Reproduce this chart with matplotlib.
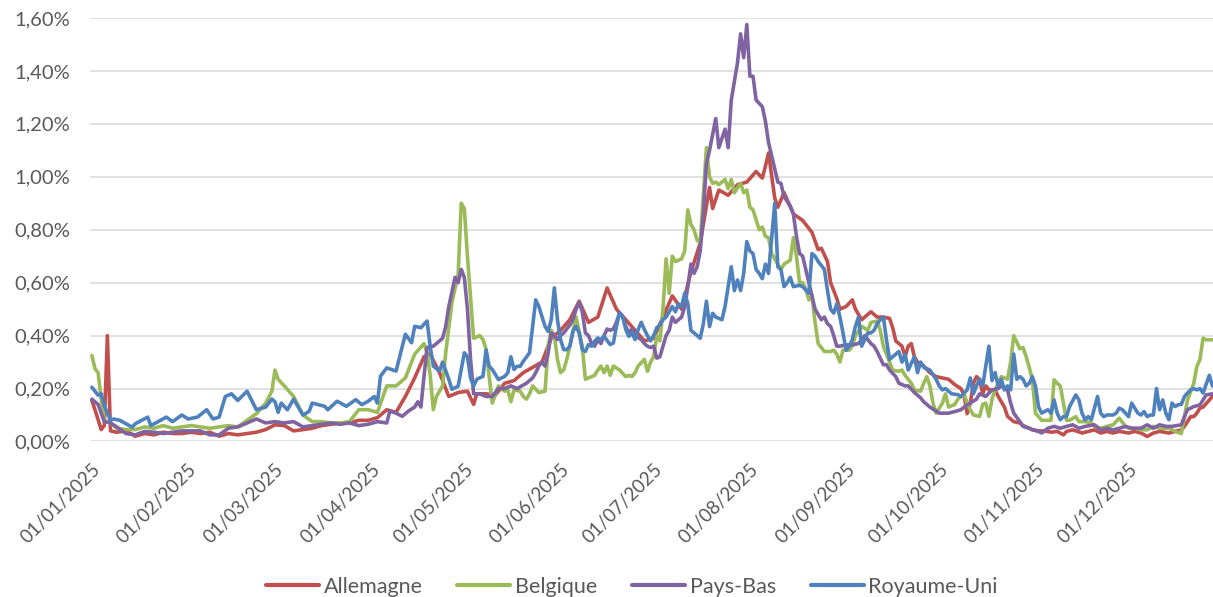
import matplotlib
matplotlib.use("Agg")
import matplotlib.pyplot as plt
import matplotlib.dates as mdates
from matplotlib.ticker import FuncFormatter, MultipleLocator
import pandas as pd

plt.rcParams["font.family"] = ["Lato", "DejaVu Sans"]

start = pd.Timestamp("2025-01-01")
names = ["Allemagne", "Belgique", "Pays-Bas", "Royaume-Uni"]
colors = ["#C0504D", "#9BBB59", "#8064A2", "#4F81BD"]

# (day of year from 01/01/2025, value in %)
allemagne = [(0, .155), (1, .12), (3, .045), (4, .06), (5, .40), (6, .04), (8, .035), (11, .04), (14, .02),
             (17, .03), (20, .025), (23, .035), (26, .03), (29, .03), (32, .035), (35, .03), (38, .035),
             (41, .02), (44, .03), (47, .025), (50, .03), (53, .035), (56, .045), (59, .063), (62, .06),
             (65, .04), (68, .045), (71, .05), (74, .06), (77, .065), (80, .07), (83, .07), (86, .08),
             (89, .08), (92, .09), (95, .12), (98, .11), (101, .17), (104, .24), (107, .32), (109, .33),
             (112, .26), (115, .17), (118, .185), (121, .19), (123, .14), (124, .18), (127, .18), (130, .175),
             (133, .22), (136, .23), (139, .26), (142, .28), (145, .30), (148, .39), (151, .42), (154, .46),
             (157, .53), (160, .45), (163, .47), (166, .58), (169, .50), (172, .46), (175, .42), (178, .38),
             (181, .39), (184, .47), (187, .55), (190, .50), (193, .64), (196, .75), (199, .96), (200, .88),
             (202, .95), (205, .93), (208, .97), (211, .98), (214, 1.02), (216, .995), (217, 1.04), (218, 1.09),
             (220, .92), (221, .885), (223, .94), (226, .86), (229, .835), (232, .79), (234, .725), (235, .73),
             (237, .68), (238, .60), (240, .54), (241, .50), (243, .51), (245, .535), (246, .50), (248, .46),
             (251, .49), (253, .47), (255, .47), (257, .465), (258, .43), (259, .38), (261, .36), (262, .32),
             (263, .36), (264, .37), (265, .32), (266, .30), (268, .285), (270, .26), (272, .245), (274, .24),
             (276, .235), (278, .215), (280, .20), (281, .175), (282, .105), (283, .145), (284, .22), (285, .245),
             (286, .235), (287, .18), (288, .21), (289, .195), (291, .195), (292, .17), (294, .13), (295, .095),
             (297, .075), (299, .07), (300, .06), (302, .05), (303, .045), (305, .04), (307, .04), (309, .035),
             (311, .038), (313, .025), (314, .038), (316, .044), (319, .032), (321, .038), (323, .044),
             (325, .032), (327, .038), (329, .032), (331, .038), (334, .032), (336, .038), (338, .032),
             (340, .019), (342, .032), (344, .038), (347, .032), (349, .038), (351, .044), (352, .057),
             (354, .094), (355, .094), (356, .107), (357, .126), (358, .13), (360, .157), (361, .17)]

belgique = [(0, .325), (1, .275), (2, .26), (3, .16), (4, .08), (6, .07), (8, .05), (11, .045), (14, .045),
            (17, .055), (20, .05), (23, .06), (26, .05), (29, .055), (32, .06), (35, .055), (38, .05),
            (41, .055), (44, .06), (47, .055), (50, .08), (53, .105), (56, .145), (58, .19), (59, .27),
            (60, .235), (62, .21), (65, .17), (68, .10), (71, .075), (74, .075), (77, .07), (80, .07),
            (83, .075), (86, .12), (89, .12), (92, .11), (95, .21), (98, .21), (101, .24), (104, .33),
            (107, .37), (108, .335), (109, .25), (110, .12), (111, .17), (113, .21), (114, .335), (116, .525),
            (118, .63), (119, .90), (120, .88), (121, .70), (123, .39), (125, .40), (126, .385), (127, .35),
            (128, .245), (129, .145), (131, .21), (133, .19), (134, .195), (135, .15), (136, .195), (138, .19),
            (139, .17), (140, .16), (141, .18), (142, .21), (144, .185), (146, .19), (147, .36), (148, .42),
            (149, .40), (150, .31), (151, .26), (152, .27), (153, .31), (154, .36), (155, .42), (156, .47),
            (158, .36), (159, .235), (160, .24), (162, .25), (163, .27), (164, .285), (165, .26), (166, .285),
            (167, .25), (168, .285), (170, .27), (172, .245), (173, .25), (174, .245), (175, .26), (176, .285),
            (178, .31), (179, .265), (180, .30), (181, .32), (182, .40), (183, .38), (184, .50), (185, .69),
            (186, .56), (187, .70), (188, .68), (190, .69), (191, .72), (192, .875), (193, .82), (194, .80),
            (195, .76), (196, .75), (197, .93), (198, 1.11), (199, 1.0), (200, .975), (201, .98), (202, .97),
            (204, .99), (205, .955), (206, .99), (207, .94), (209, .975), (210, .94), (211, .95), (212, .885),
            (213, .875), (215, .80), (216, .81), (217, .775), (218, .77), (219, .71), (221, .67), (222, .65),
            (223, .67), (225, .685), (226, .77), (227, .70), (228, .60), (229, .60), (230, .575), (231, .535),
            (232, .55), (233, .45), (234, .37), (236, .34), (238, .34), (239, .345), (240, .33), (241, .30),
            (242, .345), (244, .345), (245, .36), (246, .40), (248, .435), (250, .42), (251, .45), (253, .455),
            (254, .42), (255, .36), (257, .30), (258, .27), (260, .265), (261, .27), (262, .25), (264, .22),
            (265, .195), (267, .19), (268, .22), (269, .245), (270, .21), (271, .145), (272, .107), (273, .125),
            (274, .145), (275, .18), (276, .13), (278, .14), (279, .16), (281, .18), (282, .145), (283, .12),
            (284, .10), (286, .095), (287, .14), (288, .145), (289, .095), (290, .16), (291, .195), (293, .245),
            (295, .235), (296, .30), (297, .40), (298, .375), (299, .35), (300, .355), (301, .32), (302, .28),
            (303, .235), (304, .107), (306, .08), (308, .08), (309, .08), (310, .233), (311, .22), (312, .21),
            (314, .08), (315, .08), (317, .094), (318, .075), (320, .075), (322, .07), (323, .057), (325, .05),
            (327, .057), (329, .063), (331, .088), (333, .057), (334, .05), (336, .05), (338, .044), (340, .044),
            (342, .057), (344, .05), (347, .05), (349, .038), (351, .03), (352, .094), (353, .157), (355, .22),
            (356, .283), (357, .31), (358, .39), (359, .384), (361, .384)]

pays_bas = [(0, .16), (2, .14), (4, .075), (6, .07), (8, .055), (11, .03), (14, .025), (17, .038), (20, .035),
            (23, .03), (26, .035), (29, .04), (32, .04), (35, .04), (38, .025), (41, .025), (44, .05),
            (47, .055), (50, .07), (53, .085), (56, .07), (59, .075), (62, .07), (65, .075), (68, .055),
            (71, .06), (74, .065), (77, .07), (80, .065), (83, .07), (86, .06), (89, .065), (92, .075),
            (95, .07), (96, .115), (98, .107), (100, .095), (102, .115), (104, .13), (105, .15), (106, .13),
            (107, .245), (108, .355), (110, .36), (113, .39), (114, .435), (115, .51), (117, .62), (118, .60),
            (119, .65), (120, .62), (121, .50), (122, .31), (123, .18), (125, .18), (127, .17), (129, .17),
            (131, .20), (133, .20), (135, .21), (137, .20), (140, .22), (142, .24), (143, .26), (144, .285),
            (145, .30), (146, .285), (147, .335), (148, .41), (149, .40), (150, .385), (151, .40), (152, .41),
            (154, .44), (155, .46), (156, .50), (157, .525), (158, .49), (159, .41), (160, .40), (161, .37),
            (162, .36), (163, .385), (164, .37), (165, .40), (166, .425), (167, .42), (168, .425), (169, .45),
            (170, .485), (171, .47), (172, .435), (173, .41), (174, .425), (175, .40), (177, .385), (178, .37),
            (179, .36), (180, .355), (181, .36), (182, .315), (183, .32), (185, .40), (186, .42), (187, .47),
            (188, .45), (190, .47), (191, .51), (192, .585), (193, .67), (194, .635), (195, .66), (196, .72),
            (197, .86), (198, 1.05), (199, 1.10), (201, 1.22), (202, 1.11), (204, 1.18), (205, 1.11),
            (206, 1.29), (208, 1.43), (209, 1.54), (210, 1.45), (211, 1.575), (212, 1.38), (213, 1.38),
            (214, 1.29), (216, 1.265), (217, 1.21), (218, 1.13), (219, 1.08), (221, .98), (222, .975),
            (223, .925), (225, .89), (226, .86), (227, .775), (228, .71), (229, .70), (230, .65), (231, .60),
            (232, .55), (233, .50), (235, .46), (236, .47), (237, .445), (238, .435), (239, .40), (240, .36),
            (241, .36), (243, .365), (245, .365), (247, .37), (249, .40), (251, .37), (252, .36), (253, .34),
            (254, .315), (255, .29), (256, .29), (257, .27), (259, .245), (260, .22), (262, .21), (263, .21),
            (265, .185), (267, .165), (268, .15), (270, .13), (272, .115), (273, .107), (275, .107), (276, .107),
            (278, .113), (280, .12), (281, .13), (283, .145), (285, .16), (286, .18), (287, .175), (288, .17),
            (290, .195), (292, .20), (293, .21), (295, .195), (296, .145), (297, .107), (299, .075), (300, .057),
            (302, .05), (303, .044), (305, .038), (306, .032), (308, .05), (310, .057), (312, .05), (314, .057),
            (316, .063), (318, .05), (320, .057), (323, .063), (325, .044), (327, .05), (329, .044), (331, .05),
            (333, .057), (335, .05), (338, .05), (340, .063), (342, .05), (344, .063), (346, .057), (348, .057),
            (351, .063), (352, .094), (353, .12), (355, .132), (357, .138), (358, .157), (359, .176), (361, .18)]

royaume_uni = [(0, .205), (2, .175), (3, .18), (4, .135), (6, .08), (7, .085), (9, .08), (11, .067), (13, .054),
               (14, .067), (18, .092), (19, .06), (24, .092), (26, .075), (29, .10), (31, .085), (34, .092),
               (37, .12), (39, .085), (41, .092), (43, .17), (45, .18), (47, .155), (50, .19), (52, .143),
               (53, .12), (56, .13), (58, .16), (59, .15), (60, .11), (61, .145), (63, .12), (65, .16), (68, .10),
               (70, .114), (71, .145), (73, .139), (75, .133), (76, .12), (79, .152), (82, .133), (85, .158),
               (87, .139), (89, .152), (91, .17), (92, .145), (93, .247), (95, .278), (98, .266), (101, .405),
               (103, .373), (104, .435), (106, .43), (108, .455), (109, .36), (110, .285), (112, .266), (113, .30),
               (115, .235), (116, .197), (118, .209), (120, .335), (121, .32), (122, .24), (123, .21), (124, .235),
               (126, .246), (127, .345), (128, .284), (129, .272), (130, .253), (131, .234), (132, .24),
               (133, .246), (134, .259), (135, .32), (136, .272), (137, .284), (138, .284), (139, .303),
               (141, .335), (142, .435), (143, .535), (144, .51), (145, .473), (146, .435), (147, .416),
               (148, .46), (149, .58), (150, .46), (151, .385), (152, .347), (153, .347), (154, .36), (155, .416),
               (156, .435), (157, .41), (158, .347), (159, .34), (160, .366), (161, .36), (162, .379), (163, .391),
               (164, .385), (165, .397), (167, .366), (168, .372), (169, .435), (170, .485), (171, .473),
               (172, .423), (173, .397), (174, .41), (175, .385), (176, .423), (177, .45), (178, .423), (179, .40),
               (180, .38), (181, .40), (182, .43), (183, .44), (184, .46), (185, .47), (187, .51), (188, .49),
               (189, .52), (190, .51), (191, .56), (192, .52), (193, .42), (194, .41), (196, .39), (197, .445),
               (198, .53), (199, .434), (200, .484), (201, .47), (203, .46), (204, .51), (206, .66), (207, .57),
               (208, .61), (209, .57), (210, .635), (211, .755), (212, .72), (213, .71), (214, .65), (215, .635),
               (216, .615), (217, .67), (218, .635), (220, .90), (221, .66), (222, .65), (223, .585), (224, .60),
               (225, .62), (226, .585), (228, .59), (229, .585), (231, .56), (232, .71), (233, .70), (234, .68),
               (236, .65), (237, .57), (238, .50), (239, .485), (240, .52), (241, .47), (242, .41), (243, .345),
               (244, .36), (245, .385), (246, .435), (247, .47), (248, .36), (250, .41), (251, .41), (252, .42),
               (253, .445), (254, .46), (255, .47), (256, .385), (257, .31), (259, .33), (260, .34), (261, .30),
               (262, .33), (263, .27), (265, .32), (266, .26), (267, .30), (268, .28), (270, .27), (272, .235),
               (273, .21), (274, .195), (275, .20), (277, .18), (279, .177), (280, .17), (282, .195), (283, .24),
               (284, .18), (285, .21), (286, .235), (287, .21), (288, .285), (289, .36), (290, .23), (291, .26),
               (292, .21), (293, .235), (294, .195), (295, .21), (296, .195), (297, .33), (298, .235), (299, .245),
               (300, .235), (301, .21), (302, .22), (303, .245), (304, .21), (305, .13), (306, .107), (308, .12),
               (309, .107), (310, .157), (311, .107), (312, .082), (313, .094), (314, .094), (315, .132),
               (317, .176), (318, .157), (319, .107), (320, .082), (321, .094), (322, .082), (324, .17),
               (325, .107), (326, .094), (327, .10), (329, .10), (330, .107), (331, .126), (332, .12), (334, .094),
               (335, .145), (337, .107), (338, .10), (339, .113), (340, .094), (341, .10), (342, .10), (343, .20),
               (344, .12), (345, .157), (346, .107), (347, .082), (348, .145), (349, .132), (350, .139), (351, .14),
               (352, .17), (353, .183), (354, .195), (355, .20), (356, .195), (357, .20), (358, .183), (360, .25),
               (361, .21)]

series = [allemagne, belgique, pays_bas, royaume_uni]

fig = plt.figure(figsize=(12.13, 5.97), dpi=100)
ax = fig.add_axes([0.0742, 0.2605, 0.9258, 0.7094])

for name, data, c in zip(names, series, colors):
    days = [d for d, v in data]
    vals = [v for d, v in data]
    x = start + pd.to_timedelta(days, unit="D")
    ax.plot(x, vals, color=c, lw=2.6, label=name,
            solid_joinstyle="round", solid_capstyle="round")

ax.set_ylim(0, 1.6)
ax.set_xlim(start - pd.Timedelta(days=0.6), start + pd.Timedelta(days=361.2))
ax.yaxis.set_major_locator(MultipleLocator(0.2))
ax.yaxis.set_major_formatter(FuncFormatter(lambda v, p: f"{v:.2f}%".replace(".", ",")))
ax.xaxis.set_major_locator(mdates.MonthLocator())
ax.xaxis.set_major_formatter(mdates.DateFormatter("%d/%m/%Y"))

ax.grid(axis="y", color="#D9D9D9", lw=1.1)
ax.set_axisbelow(True)
for s in ax.spines.values():
    s.set_visible(False)
ax.tick_params(axis="both", length=0, colors="#595959")
ax.tick_params(axis="y", pad=14, labelsize=14.5)
ax.tick_params(axis="x", pad=14, labelsize=13.5)
for lab in ax.get_xticklabels():
    lab.set_rotation(45)
    lab.set_ha("right")
    lab.set_va("top")
    lab.set_rotation_mode("anchor")

leg = fig.legend(ncol=4, loc="center", bbox_to_anchor=(632 / 1213, 1 - 587 / 597),
                 frameon=False, fontsize=15.5, handlelength=2.46, handletextpad=0.23,
                 columnspacing=1.6)
for t in leg.get_texts():
    t.set_color("#595959")
for h in leg.get_lines():
    h.set_linewidth(3.0)

fig.savefig("out.png", dpi=100)
